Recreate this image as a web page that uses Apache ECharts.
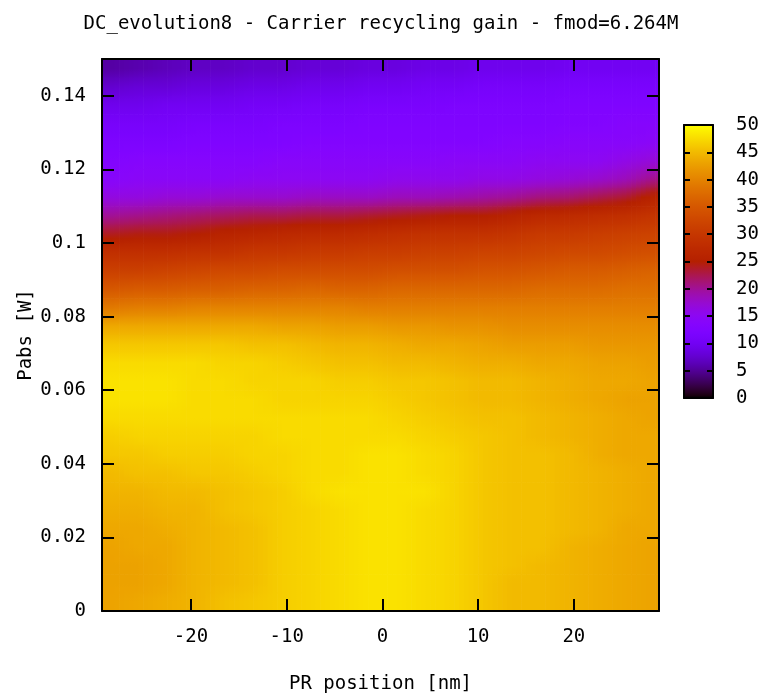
<!DOCTYPE html>
<html>
<head>
<meta charset="utf-8">
<script src="https://cdn.jsdelivr.net/npm/echarts@6/dist/echarts.min.js"></script>
<style>
html,body{margin:0;padding:0;background:#fff;}
#chart{width:762px;height:694px;}
</style>
</head>
<body>
<div id="chart"></div>
<script>
// ---------------- DATA ----------------
const titleText = 'DC_evolution8 - Carrier recycling gain - fmod=6.264M';
const xName = 'PR position [nm]';
const yName = 'Pabs [W]';
const xRange = [-29.3, 28.9];
const yRange = [0, 0.15];
const xTickValues = [-20, -10, 0, 10, 20];
const yTickValues = [0, 0.02, 0.04, 0.06, 0.08, 0.1, 0.12, 0.14];
const cbTickValues = [0, 5, 10, 15, 20, 25, 30, 35, 40, 45, 50];
const cbRange = [0, 50];

// cell centres (PR position, nm)
const xCenters = [-28.5, -25.5, -22.5, -19.5, -16.5, -13.5, -10.5, -7.5, -4.5, -1.5,
                  1.5, 4.5, 7.5, 10.5, 13.5, 16.5, 19.5, 22.5, 25.5, 28.5];
// cell centres (Pabs, W), top row first
const yCenters = [0.1475, 0.1425, 0.1375, 0.1325, 0.1275, 0.1225, 0.1175, 0.1125, 0.1075, 0.1025,
                  0.0975, 0.0925, 0.0875, 0.0825, 0.0775, 0.0725, 0.0675, 0.0625, 0.0575, 0.0525,
                  0.0475, 0.0425, 0.0375, 0.0325, 0.0275, 0.0225, 0.0175, 0.0125, 0.0075, 0.0025];
// carrier recycling gain, one row per yCenters entry (top row first), one column per xCenters entry
const gainRows = [
 [5.5, 6, 6.5, 7, 7, 7.5, 7.5, 8, 8, 8.5, 8.5, 9, 9, 9.5, 9.5, 9.5, 10, 10, 10, 10],
 [7.5, 8, 8, 8.5, 8.5, 9, 9, 9.5, 9.5, 10, 10, 10.5, 10.5, 11, 11, 11, 11.5, 11.5, 11.5, 11.5],
 [9.5, 9.5, 10, 10, 10, 10.5, 10.5, 11, 11, 11.5, 11.5, 11.5, 12, 12, 12, 12, 12.5, 12.5, 12.5, 12.5],
 [11, 11, 11, 11.5, 11.5, 11.5, 12, 12, 12, 12.5, 12.5, 12.5, 12.5, 12.5, 12.5, 12.5, 13, 13, 13.5, 13.5],
 [12, 12, 12, 12.5, 12.5, 12.5, 12.5, 13, 13, 13, 13, 13, 13, 13, 13.5, 13.5, 14, 14, 14, 14.5],
 [13, 13.5, 13.5, 13.5, 13.5, 13.5, 14, 14, 14, 14, 14, 14, 14.5, 14.5, 14.5, 15, 15, 15, 16, 17],
 [14, 14.5, 14.5, 14.5, 14.5, 15, 15, 15, 15, 15, 15.5, 15.5, 15.5, 16, 16, 16.5, 17, 17.5, 18.5, 20.5],
 [16.5, 16.5, 17, 17, 17.5, 17.5, 17.5, 18, 18, 18, 18.5, 18.5, 19, 19.5, 20, 21, 21.5, 22.5, 23.5, 26],
 [20, 20.5, 21, 21.5, 22, 22.5, 22.5, 23, 23, 23.5, 24, 24.5, 25, 25, 26, 27, 27.5, 28, 28.5, 29.5],
 [24, 24.5, 24.5, 25, 26, 26.5, 27, 27.5, 27.5, 28, 28.5, 29, 29, 29, 29.5, 30.5, 30.5, 31, 31.5, 32],
 [28.5, 28.5, 28.5, 29, 29, 30, 30, 30.5, 30.5, 31, 31, 31.5, 31.5, 32, 32, 32.5, 33, 33, 33.5, 34],
 [31.5, 31.5, 32, 32.5, 33, 33, 33.5, 33.5, 33.5, 33.5, 34, 34, 34, 34.5, 34.5, 35, 35.5, 35.5, 36, 36.5],
 [35, 35.5, 35.5, 36, 36, 36.5, 36.5, 37, 36.5, 36.5, 37, 37, 37, 37, 37, 37.5, 37.5, 37.5, 38, 38],
 [39, 39.5, 39.5, 40, 40, 40, 40, 40, 40, 39.5, 39.5, 39.5, 39.5, 39.5, 39.5, 39.5, 39.5, 39.5, 39.5, 39.5],
 [43.5, 43.5, 43.5, 43.5, 43.5, 43.5, 43, 43, 42.5, 42.5, 42, 42, 41.5, 41.5, 41, 41, 41, 41, 41, 41],
 [46, 46, 46, 46, 46, 45.5, 45.5, 45, 44.5, 44.5, 44, 43.5, 43.5, 43, 42.5, 42.5, 42.5, 42, 42, 42],
 [47.5, 47.5, 47.5, 47.5, 47, 47, 46.5, 46, 45.5, 45.5, 45, 45, 44.5, 44, 44, 43.5, 43.5, 43, 43, 42.5],
 [48, 48, 48, 47.5, 47.5, 47, 47, 47, 46.5, 46.5, 46, 46, 45.5, 45, 45, 44.5, 44, 43.5, 43.5, 43],
 [48, 48, 48, 47.5, 47.5, 47.5, 47, 47, 47, 47, 46.5, 46, 45.5, 45, 45, 44.5, 44, 43.5, 43, 43],
 [47.5, 47.5, 47.5, 47.5, 47.5, 47.5, 47.5, 47.5, 47.5, 47.5, 47, 46.5, 46, 45.5, 45.5, 45, 44.5, 44, 43.5, 43],
 [46.5, 47, 47, 47, 47, 47, 47.5, 47.5, 47.5, 47.5, 47.5, 47, 46.5, 46, 45.5, 45, 44.5, 44, 43.5, 43.5],
 [46, 46, 46.5, 46.5, 46.5, 47, 47, 47.5, 47.5, 48, 48, 47.5, 47, 46, 45.5, 45.5, 45, 44, 43.5, 43.5],
 [45, 45.5, 45.5, 46, 46, 46.5, 47, 47.5, 47.5, 48, 48, 47.5, 47, 46, 45.5, 45.5, 45, 44.5, 44, 43.5],
 [44.5, 44.5, 45, 45, 45.5, 46, 46.5, 47.5, 48, 48, 48, 48, 47, 46, 45.5, 45.5, 45, 44.5, 44, 43.5],
 [44, 44, 44.5, 44.5, 45.5, 46, 46.5, 47, 47.5, 48, 48, 47.5, 47, 46, 45.5, 45.5, 45, 44.5, 44, 43.5],
 [43.5, 43.5, 44, 44.5, 45, 45.5, 46.5, 47, 47.5, 48, 48, 47.5, 47, 46, 45.5, 45.5, 45, 44.5, 43.5, 43.5],
 [43, 43.5, 43.5, 44.5, 45, 45.5, 46.5, 47, 47.5, 48, 48, 47.5, 47, 46, 45.5, 45.5, 44.5, 44, 43.5, 43],
 [43, 43, 43.5, 44.5, 45, 45.5, 46.5, 47, 47.5, 48, 48, 47.5, 47, 46, 45.5, 45, 44.5, 44, 43.5, 43],
 [43, 43, 43.5, 44.5, 45, 45.5, 46.5, 47, 47.5, 48, 48, 47.5, 47, 46, 45, 45, 44.5, 44, 43.5, 43],
 [43, 43.5, 44, 44.5, 45.5, 46, 46.5, 47, 47.5, 48, 48, 47.5, 47, 46, 45, 45, 44.5, 44, 43.5, 43]
];

// ---------------- BUILD ----------------
const FONT = 'DejaVu Sans Mono';
const nRows = yCenters.length, nCols = xCenters.length;
const cells = [];
yCenters.forEach((y, r) => xCenters.forEach((x, c) => cells.push([x, y, gainRows[r][c]])));
const cellW = Math.abs(xCenters[1] - xCenters[0]);
const cellH = Math.abs(yCenters[0] - yCenters[1]);

// gnuplot default palette (rgbformulae 7,5,15)
function gnuplotColor(v) {
  const t = Math.min(1, Math.max(0, (v - cbRange[0]) / (cbRange[1] - cbRange[0])));
  const r = Math.sqrt(t), g = t * t * t, b = Math.max(0, Math.sin(2 * Math.PI * t));
  return 'rgb(' + Math.round(r * 255) + ',' + Math.round(g * 255) + ',' + Math.round(b * 255) + ')';
}
const palette = [];
for (let i = 0; i <= 100; i++) palette.push(gnuplotColor(cbRange[0] + (cbRange[1] - cbRange[0]) * i / 100));

// smooth shading between cell centres (like gnuplot pm3d interpolate) - rendering only
function shadeAt(x, y) {
  let fc = (x - xCenters[0]) / cellW, fr = (yCenters[0] - y) / cellH;
  fc = Math.min(nCols - 1, Math.max(0, fc));
  fr = Math.min(nRows - 1, Math.max(0, fr));
  const c0 = Math.min(nCols - 2, Math.floor(fc)), r0 = Math.min(nRows - 2, Math.floor(fr));
  const tx = fc - c0, ty = fr - r0;
  const a = gainRows[r0][c0], b = gainRows[r0][c0 + 1];
  const c = gainRows[r0 + 1][c0], d = gainRows[r0 + 1][c0 + 1];
  return (a * (1 - tx) + b * tx) * (1 - ty) + (c * (1 - tx) + d * tx) * ty;
}

const SUB = 6;
const STOPS = [0, 0.25, 0.5, 0.75, 1];
function renderCell(params, api) {
  const x = api.value(0), y = api.value(1);
  const children = [];
  const yTop = y + cellH / 2, yBot = y - cellH / 2;
  for (let k = 0; k < SUB; k++) {
    const xa = x - cellW / 2 + k * cellW / SUB;
    const xb = xa + cellW / SUB;
    const xm = (xa + xb) / 2;
    const p0 = api.coord([xa, yTop]);
    const p1 = api.coord([xb, yBot]);
    const rect = echarts.graphic.clipRectByRect(
      { x: p0[0], y: p0[1], width: p1[0] - p0[0] + 0.7, height: p1[1] - p0[1] + 0.7 },
      params.coordSys
    );
    if (!rect) continue;
    const stops = STOPS.map(o => ({ offset: o, color: gnuplotColor(shadeAt(xm, yTop - o * cellH)) }));
    children.push({
      type: 'rect', shape: rect,
      style: { fill: new echarts.graphic.LinearGradient(0, 0, 0, 1, stops) }
    });
  }
  return { type: 'group', children: children };
}

const axisTxt = { color: '#000', fontFamily: FONT, fontSize: 19 };
const black = { color: '#000', width: 2 };

const chart = echarts.init(document.getElementById('chart'), null, { renderer: 'canvas' });
chart.setOption({
  backgroundColor: '#fff',
  animation: false,
  title: {
    text: titleText, left: 'center', top: 10,
    textStyle: { fontFamily: FONT, fontSize: 19, fontWeight: 'normal', color: '#000' }
  },
  grid: [
    { left: 102, top: 59, width: 557, height: 552, show: false, outerBoundsMode: 'none' },
    { left: 684, top: 125, width: 29, height: 273, show: false, outerBoundsMode: 'none' }
  ],
  xAxis: [
    { type: 'value', gridIndex: 0, min: xRange[0], max: xRange[1], position: 'bottom', z: 10,
      name: xName, nameLocation: 'middle', nameGap: 64, nameMoveOverlap: false, nameTextStyle: axisTxt,
      axisLine: { show: true, onZero: false, lineStyle: black },
      axisTick: { show: true, inside: true, length: 12, lineStyle: black, customValues: xTickValues },
      axisLabel: { show: true, margin: 17, ...axisTxt, customValues: xTickValues },
      splitLine: { show: false } },
    { type: 'value', gridIndex: 0, min: xRange[0], max: xRange[1], position: 'top', z: 10,
      axisLine: { show: true, onZero: false, lineStyle: black },
      axisTick: { show: true, inside: true, length: 12, lineStyle: black, customValues: xTickValues },
      axisLabel: { show: false }, splitLine: { show: false } },
    { type: 'value', gridIndex: 1, min: 0, max: 1, position: 'bottom', z: 10,
      axisLine: { show: true, onZero: false, lineStyle: black },
      axisTick: { show: false }, axisLabel: { show: false }, splitLine: { show: false } },
    { type: 'value', gridIndex: 1, min: 0, max: 1, position: 'top', z: 10,
      axisLine: { show: true, onZero: false, lineStyle: black },
      axisTick: { show: false }, axisLabel: { show: false }, splitLine: { show: false } }
  ],
  yAxis: [
    { type: 'value', gridIndex: 0, min: yRange[0], max: yRange[1], position: 'left', z: 10,
      name: yName, nameLocation: 'middle', nameGap: 66, nameMoveOverlap: false, nameRotate: 90, nameTextStyle: axisTxt,
      axisLine: { show: true, onZero: false, lineStyle: black },
      axisTick: { show: true, inside: true, length: 12, lineStyle: black, customValues: yTickValues },
      axisLabel: { show: true, margin: 16, ...axisTxt, customValues: yTickValues },
      splitLine: { show: false } },
    { type: 'value', gridIndex: 0, min: yRange[0], max: yRange[1], position: 'right', z: 10,
      axisLine: { show: true, onZero: false, lineStyle: black },
      axisTick: { show: true, inside: true, length: 12, lineStyle: black, customValues: yTickValues },
      axisLabel: { show: false }, splitLine: { show: false } },
    { type: 'value', gridIndex: 1, min: cbRange[0], max: cbRange[1], position: 'left', z: 10,
      axisLine: { show: true, onZero: false, lineStyle: black },
      axisTick: { show: true, inside: true, length: 6, lineStyle: black, customValues: cbTickValues },
      axisLabel: { show: false }, splitLine: { show: false } },
    { type: 'value', gridIndex: 1, min: cbRange[0], max: cbRange[1], position: 'right', z: 10,
      axisLine: { show: true, onZero: false, lineStyle: black },
      axisTick: { show: true, inside: true, length: 6, lineStyle: black, customValues: cbTickValues },
      axisLabel: { show: true, margin: 23, ...axisTxt, customValues: cbTickValues },
      splitLine: { show: false } }
  ],
  visualMap: {
    type: 'continuous', min: cbRange[0], max: cbRange[1], dimension: 2, seriesIndex: 0,
    calculable: false, realtime: false, hoverLink: false,
    left: 684, top: 125, itemWidth: 29, itemHeight: 273, padding: 0,
    text: null, showLabel: false,
    inRange: { color: palette }
  },
  series: [{
    type: 'custom', xAxisIndex: 0, yAxisIndex: 0,
    renderItem: renderCell, data: cells,
    encode: { x: 0, y: 1 }, silent: true, z: 2
  }]
});
</script>
</body>
</html>
